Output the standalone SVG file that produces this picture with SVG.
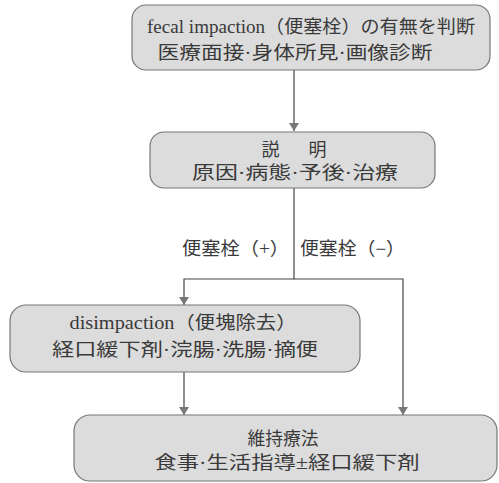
<svg xmlns="http://www.w3.org/2000/svg" width="499" height="483" viewBox="0 0 499 483">
<defs>
<marker id="ah" viewBox="0 0 8 12" refX="8" refY="6" markerWidth="8" markerHeight="12" markerUnits="userSpaceOnUse" orient="auto">
<path d="M0,1 L8,6 L0,11 Z" fill="#777"/>
</marker>
</defs>
<style>
.box{fill:#dcdcdc;stroke:#777;stroke-width:1.2}
.t{font-family:"Liberation Serif","Noto Sans CJK JP",serif;font-size:18px;fill:#3a3a3a;text-anchor:middle}
.c{stroke:#444;stroke-width:1.2;fill:none}
.lbl{font-family:"Liberation Serif","Noto Sans CJK JP",serif;font-size:18px;fill:#3a3a3a}
</style>
<rect width="499" height="483" fill="#fff"/>
<g id="connectors">
<line class="c" x1="294" y1="70" x2="294" y2="131" marker-end="url(#ah)"/>
<polyline class="c" points="294,188 294,279 184,279 184,305" marker-end="url(#ah)"/>
<polyline class="c" points="294,279 403,279 403,415" marker-end="url(#ah)"/>
<line class="c" x1="184" y1="372" x2="184" y2="415" marker-end="url(#ah)"/>
<text class="lbl" x="182" y="255" textLength="107" lengthAdjust="spacingAndGlyphs">便塞栓（+）</text>
<text class="lbl" x="300" y="255" textLength="105" lengthAdjust="spacingAndGlyphs">便塞栓（−）</text>
</g>
<g id="n1">
<rect class="box" x="132" y="5" width="358" height="65" rx="14"/>
<text class="t" x="311" y="33" textLength="328" lengthAdjust="spacingAndGlyphs">fecal impaction（便塞栓）の有無を判断</text>
<text class="t" x="295" y="59" textLength="275" lengthAdjust="spacingAndGlyphs">医療面接·身体所見·画像診断</text>
</g>
<g id="n2">
<rect class="box" x="150" y="132" width="285" height="56" rx="14"/>
<text class="t" x="294" y="156" textLength="65" lengthAdjust="spacing">説　明</text>
<text class="t" x="295" y="179" textLength="206" lengthAdjust="spacingAndGlyphs">原因·病態·予後·治療</text>
</g>
<g id="n3">
<rect class="box" x="10" y="305" width="350" height="67" rx="16"/>
<text class="t" x="183" y="329" textLength="227" lengthAdjust="spacingAndGlyphs">disimpaction（便塊除去）</text>
<text class="t" x="185" y="356" textLength="266" lengthAdjust="spacingAndGlyphs">経口緩下剤·浣腸·洗腸·摘便</text>
</g>
<g id="n4">
<rect class="box" x="74" y="415" width="423" height="66" rx="16"/>
<text class="t" x="283" y="445" textLength="71" lengthAdjust="spacingAndGlyphs">維持療法</text>
<text class="t" x="287" y="469" textLength="265" lengthAdjust="spacingAndGlyphs">食事·生活指導±経口緩下剤</text>
</g>
</svg>
